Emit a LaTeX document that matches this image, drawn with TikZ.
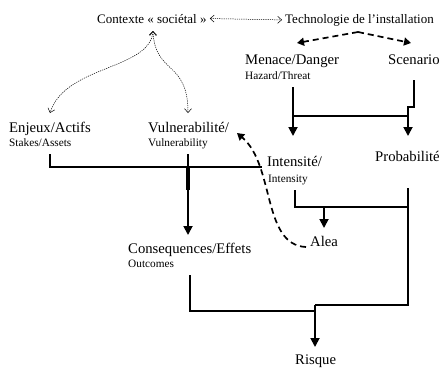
\documentclass[tikz,border=0pt]{standalone}
\usepackage{fontspec}
\setmainfont{Liberation Serif}
\usetikzlibrary{arrows.meta}
\begin{document}
\begin{tikzpicture}[x=1pt,y=-1pt,
  big/.style={anchor=base west,inner sep=0pt,font=\fontsize{14.7}{16}\selectfont},
  mid/.style={anchor=base west,inner sep=0pt,font=\fontsize{13}{15}\selectfont},
  small/.style={anchor=base west,inner sep=0pt,font=\fontsize{11.3}{13}\selectfont},
  flow/.style={line width=1.8pt},
  flowarr/.style={flow,-{Triangle[width=9pt,length=9pt]}},
  dashline/.style={line width=1.7pt,dash pattern=on 6pt off 4pt},
  dasharr/.style={dashline,-{Triangle[width=8pt,length=7pt]}},
  dotline/.style={line width=0.5pt,dash pattern=on 1.2pt off 1pt,
    {Straight Barb[length=4pt,width=7pt]}-{Straight Barb[length=4pt,width=7pt]}}
]
\useasboundingbox (0,0) rectangle (440,368);

% texts
\node[mid] (ctx) at (97,23) {Contexte « sociétal »};
\node[mid] (tech) at (285,23) {Technologie de l’installation};
\node[big] (men) at (245,64) {Menace/Danger};
\node[small] (haz) at (245,79) {Hazard/Threat};
\node[big] (scn) at (388,64) {Scenario};
\node[big] (enj) at (9,132) {Enjeux/Actifs};
\node[small] (stk) at (9,146) {Stakes/Assets};
\node[big] (vul) at (148,132) {Vulnerabilité/};
\node[small] (vuln) at (148,146) {Vulnerability};
\node[big] (int) at (267,166) {Intensité/};
\node[small] (intn) at (268,182) {Intensity};
\node[big] (prob) at (375,161) {Probabilité};
\node[big] (cons) at (128,253) {Consequences/Effets};
\node[small] (out) at (128,267) {Outcomes};
\node[big] (alea) at (310,246) {Alea};
\node[big] (risk) at (295,364) {Risque};

% junction coordinates
\coordinate (ctxb) at (153,31);
\coordinate (enjT) at (50,113);
\coordinate (vulT) at (188,113);
\coordinate (peak) at (358,32);
\coordinate (menL) at (297,43);
\coordinate (scnL) at (411,43);

% dotted relations
\draw[dotline] ([xshift=3pt]ctx.east) -- ([xshift=-3pt]tech.west);
\draw[dotline] (ctxb) .. controls (150,70) and (65,65) .. (enjT);
\draw[dotline] (ctxb) .. controls (155,75) and (188,60) .. (vulT);

% dashed caret
\draw[dasharr] (peak) -- (menL);
\draw[dasharr] (peak) -- (scnL);

% menace / scenario
\draw[flow] (293,87) -- (293,116) -- (408,116);
\draw[flowarr] (293,116) -- (293,136);
\draw[flow] (414,80) -- (414,107) -- (408,107) -- (408,116);
\draw[flowarr] (408,116) -- (408,136);

% enjeux / vulnerabilite
\draw[flow] (50,154) -- (50,167) -- (262,167);
\draw[flowarr] (188,154) -- (188,235);
\draw[line width=3.4pt] (188,167) -- (188,190);

% intensite -> alea
\draw[flow] (295,190) -- (295,207) -- (408,207);
\draw[flowarr] (324,207) -- (324,228);

% probabilite -> risque
\draw[flow] (408,188) -- (408,305) -- (315,305);
\draw[flowarr] (315,305) -- (315,347);

% consequences -> risque
\draw[flow] (190,275) -- (190,311) -- (315,311);

% alea -> vulnerabilite (dashed)
\draw[dasharr] (306,247) .. controls (262,245) and (275,165) .. (237,133);
\end{tikzpicture}
\end{document}
